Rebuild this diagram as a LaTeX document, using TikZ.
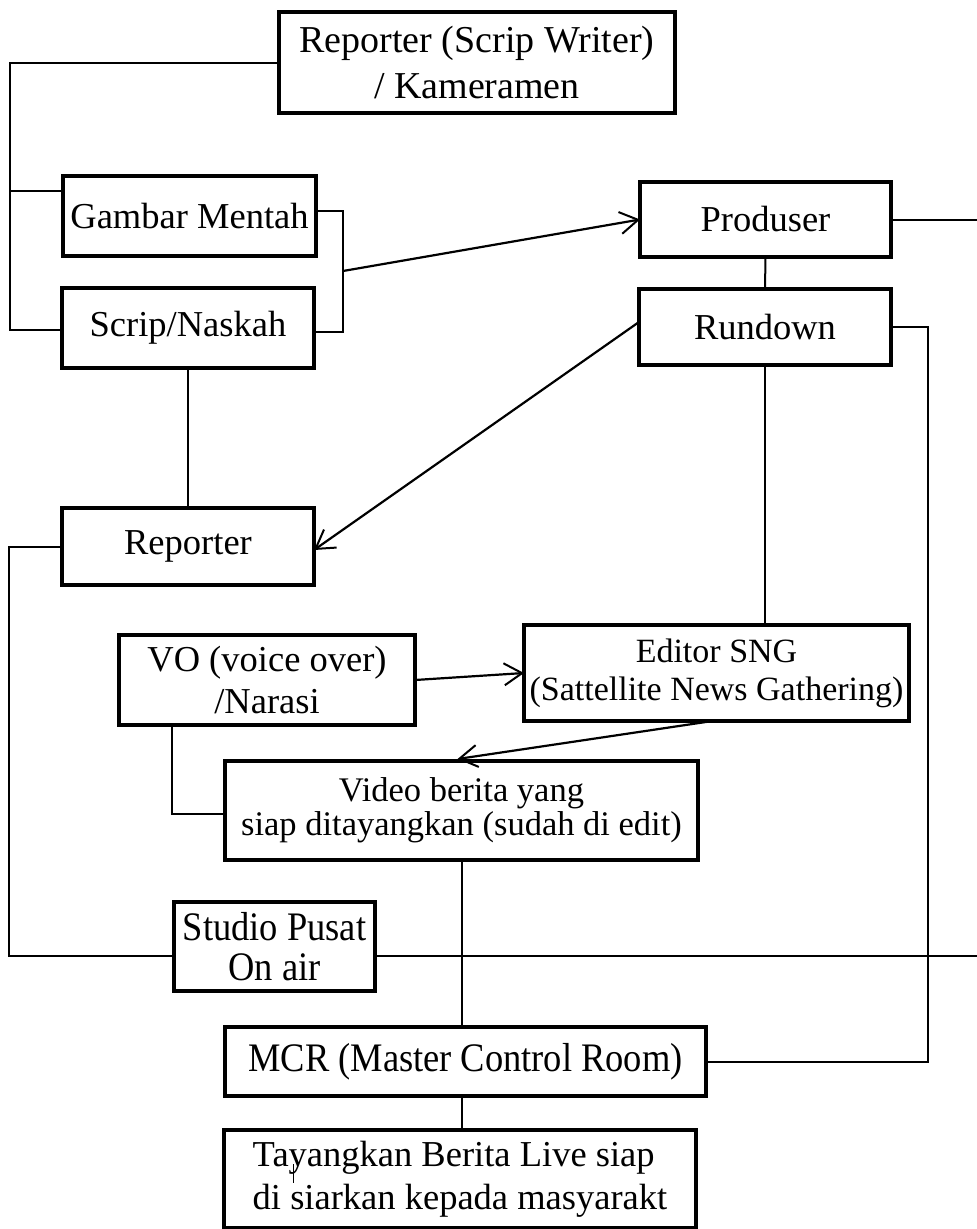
\documentclass[tikz,border=0pt]{standalone}
\usepackage{fontspec}
\setmainfont{Liberation Serif}
\newfontfamily\narrowserif[FakeStretch=0.9]{Liberation Serif}
\usetikzlibrary{arrows.meta,calc}
\tikzset{
  box/.style={draw, line width=4.5pt, align=center, inner sep=0pt, outer sep=0pt, fill=white},
  conn/.style={line width=2pt},
  arr/.style={line width=2.2pt, -{Straight Barb[length=18pt,width=22pt,line width=2pt]}},
  fbig/.style={font=\fontsize{38pt}{46pt}\selectfont},
  fmain/.style={font=\fontsize{36.5pt}{42pt}\selectfont},
  fsng/.style={font=\fontsize{34pt}{38pt}\selectfont},
  fvid/.style={font=\fontsize{34.5pt}{34pt}\selectfont},
  fnarrow/.style={font=\narrowserif\fontsize{40.5pt}{40pt}\selectfont},
  ftay/.style={font=\fontsize{36.5pt}{43pt}\selectfont}
}
\begin{document}
\begin{tikzpicture}[x=1pt,y=-1pt]
\fill[white] (0,0) rectangle (977,1229);
\useasboundingbox (0,0) rectangle (977,1229);

% boxes
\node[box,fbig,minimum width=396pt,minimum height=101pt] (rsw) at (477,62.5) {Reporter (Scrip Writer)\\/ Kameramen};
\node[box,fmain,minimum width=253pt,minimum height=80pt] (gambar) at (189.5,216) {Gambar Mentah};
\node[box,fmain,minimum width=252pt,minimum height=80pt] (scrip) at (188,328) {Scrip/Naskah};
\node[box,fmain,minimum width=251pt,minimum height=75pt] (prod) at (765.5,219.5) {Produser};
\node[box,fmain,minimum width=252pt,minimum height=76pt] (rund) at (765,327) {Rundown};
\node[box,fmain,minimum width=252pt,minimum height=77pt] (rep) at (188,546.5) {Reporter};
\node[box,fmain,minimum width=296pt,minimum height=90pt] (vo) at (267,680) {VO (voice over)\\/Narasi};
\node[box,fsng,minimum width=385pt,minimum height=96pt] (sng) at (716.5,673) {Editor SNG\\(Sattellite News Gathering)};
\node[box,fvid,minimum width=473pt,minimum height=99pt] (vid) at (461.5,810.5) {Video berita yang\\siap ditayangkan (sudah di edit)};
\node[box,fnarrow,minimum width=201pt,minimum height=89pt] (studio) at (274.5,946.5) {Studio Pusat\\On air};
\node[box,fnarrow,minimum width=481pt,minimum height=69pt] (mcr) at (465.5,1061.5) {MCR (Master Control Room)};
\node[box,ftay,align=left,minimum width=472pt,minimum height=98pt] (tay) at (460,1179) {Tayangkan Berita Live siap\\di siarkan kepada masyarakt};

% helper coordinates
\coordinate (lt) at (10,62.5);
\coordinate (lb) at (10,330);
\coordinate (g1) at ([yshift=25pt]gambar.west);
\coordinate (g2) at ([yshift=5pt]gambar.east);
\coordinate (s2) at ([yshift=-4pt]scrip.east);
\coordinate (bx) at (343,271);
\coordinate (pe) at (977,219.5);
\coordinate (rx) at (928,700);
\coordinate (lc) at (9,956);
\coordinate (sw) at ([yshift=-9.5pt]studio.west);
\coordinate (se) at ([yshift=-9.5pt]studio.east);
\coordinate (vcx) at (172,0);
\coordinate (vw) at ([yshift=-3.5pt]vid.west);
\coordinate (c1) at (293.5,1164);
\coordinate (c2) at (293.5,1183);

% connectors
\draw[conn] (rsw.west) -- (lt) -- (lb) -- (lb -| scrip.west);
\draw[conn] (g1) -- (g1 -| lt);
\draw[conn] (g2) -| (bx) |- (s2);
\draw[arr] (bx) -- (prod.west);
\draw[conn] (prod.south) -- (rund.north);
\draw[conn] (prod.east) -- (pe);
\draw[conn] (rund.east) -| (rx) |- (mcr.east);
\draw[conn] (rund.south) -- (rund.south |- sng.north);
\draw[arr] ([yshift=5pt]rund.west) -- ([yshift=-3.5pt]rep.east);
\draw[conn] (scrip.south) -- (rep.north);
\draw[conn] (rep.west) -| (lc) -- (sw);
\draw[conn] (se) -- (se -| pe);
\draw[arr] (vo.east) -- (sng.west);
\draw[conn] (vo.south -| vcx) |- (vw);
\draw[arr] ([xshift=-4pt]sng.south) -- ([xshift=-4pt,yshift=2pt]vid.north);
\draw[conn] (vid.south) -- (vid.south |- mcr.north);
\draw[conn] (vid.south |- mcr.south) -- (vid.south |- tay.north);
\draw[line width=1.5pt] (c1) -- (c2);
\end{tikzpicture}
\end{document}
